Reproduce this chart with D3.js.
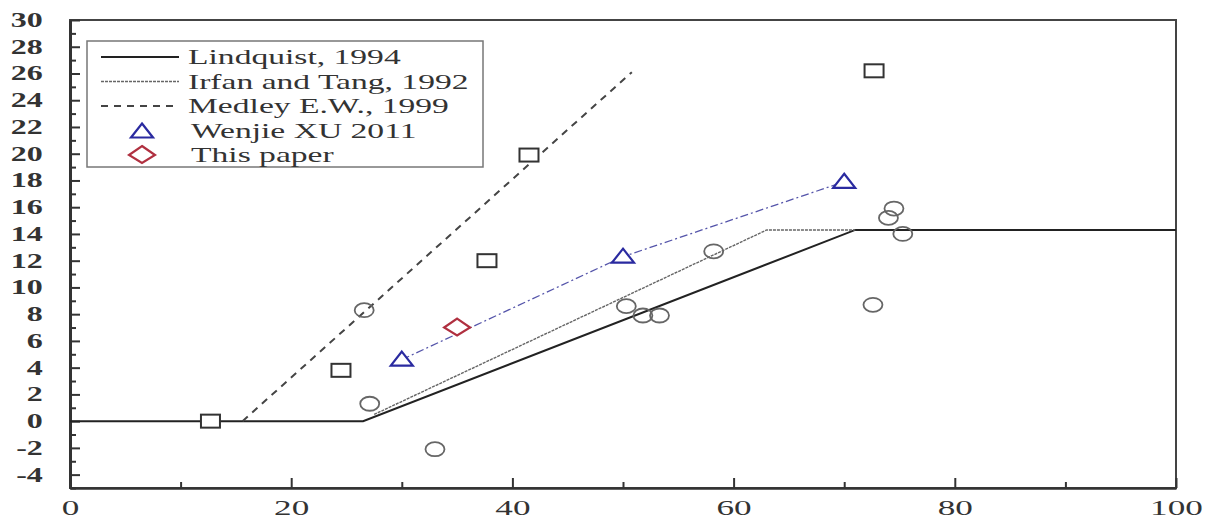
<!DOCTYPE html>
<html>
<head>
<meta charset="utf-8">
<script src="https://cdn.jsdelivr.net/npm/d3@7"></script>
<style>
  body { margin: 0; background: #fff; }
</style>
</head>
<body>
<div id="chart"></div>
<script>
// -------- Data --------
const lindquist = [[0, 0], [26.5, 0], [71, 14.3], [100, 14.3]];
const irfanTang = [[27.5, 0.5], [63, 14.3], [71, 14.3]];
const medley = [[15.6, 0], [50.8, 26.1]];
const wenjieXu = [[30, 4.6], [50, 12.3], [70, 17.9]];
const thisPaper = [[35, 7.0]];
const squares = [[12.7, 0], [24.5, 3.8], [37.7, 12.0], [41.5, 19.9], [72.7, 26.2]];
const circles = [
  [26.6, 8.3], [27.1, 1.3], [33.0, -2.1], [50.3, 8.6], [51.8, 7.9],
  [53.3, 7.9], [58.2, 12.7], [74.0, 15.2], [74.5, 15.9], [75.3, 14.0], [72.6, 8.7]
];
const yTicks = d3.range(-4, 31, 2);
const xTicks = [0, 20, 40, 60, 80, 100];
const legendItems = ['Lindquist, 1994', 'Irfan and Tang, 1992', 'Medley E.W., 1999', 'Wenjie XU 2011', 'This paper'];

// -------- Dimensions --------
const svgWidth = 1208, svgHeight = 520;
const plot = { left: 70, right: 1176, top: 20, bottom: 488 };
const stretch = 1.6; // the source picture is stretched sideways
const serif = "'Liberation Serif', 'Times New Roman', 'DejaVu Serif', serif";

const svg = d3.select('#chart').append('svg')
  .attr('width', svgWidth)
  .attr('height', svgHeight);

// -------- Scales --------
const x = d3.scaleLinear().domain([0, 100]).range([plot.left, plot.right]);
const y = d3.scaleLinear().domain([-5, 30]).range([plot.bottom, plot.top]);

// -------- Frame --------
svg.append('rect')
  .attr('x', plot.left).attr('y', plot.top)
  .attr('width', plot.right - plot.left)
  .attr('height', plot.bottom - plot.top)
  .attr('fill', 'none')
  .attr('stroke', '#444')
  .attr('stroke-width', 2);

// -------- Axes (ticks pointing in) --------
const yAxis = svg.append('g')
  .attr('transform', `translate(${plot.left},0)`)
  .call(d3.axisLeft(y).tickValues(yTicks).tickSize(-10).tickPadding(17)
    .tickSizeOuter(0).tickFormat(d => String(d)));
yAxis.select('.domain').attr('stroke', '#333').attr('stroke-width', 3);
yAxis.selectAll('.tick line').attr('stroke', '#333').attr('stroke-width', 2);
yAxis.selectAll('text')
  .attr('fill', '#333')
  .attr('transform', `scale(${stretch},1)`)
  .style('font-family', serif)
  .style('font-size', '20px')
  .style('font-weight', 'bold');

svg.append('g')
  .attr('transform', `translate(${plot.left},0)`)
  .call(d3.axisLeft(y).tickValues(d3.range(-5, 30, 2)).tickSize(-6).tickFormat(''))
  .call(g => g.select('.domain').remove())
  .selectAll('.tick line').attr('stroke', '#333').attr('stroke-width', 2);

const xAxis = svg.append('g')
  .attr('transform', `translate(0,${plot.bottom})`)
  .call(d3.axisBottom(x).tickValues(xTicks).tickSize(-10).tickPadding(11)
    .tickSizeOuter(0).tickFormat(d => String(d)));
xAxis.select('.domain').attr('stroke', '#333').attr('stroke-width', 2.5);
xAxis.selectAll('.tick line').attr('stroke', '#333').attr('stroke-width', 2);
xAxis.selectAll('text')
  .attr('fill', '#333')
  .attr('transform', `scale(${stretch},1)`)
  .style('font-family', serif)
  .style('font-size', '22px');

svg.append('g')
  .attr('transform', `translate(0,${plot.bottom})`)
  .call(d3.axisBottom(x).tickValues([10, 30, 50, 70, 90]).tickSize(-6).tickFormat(''))
  .call(g => g.select('.domain').remove())
  .selectAll('.tick line').attr('stroke', '#333').attr('stroke-width', 2);

// -------- Lines --------
const line = d3.line().x(d => x(d[0])).y(d => y(d[1]));

svg.append('path').datum(lindquist)
  .attr('d', line).attr('fill', 'none')
  .attr('stroke', '#222').attr('stroke-width', 2);

svg.append('path').datum(irfanTang)
  .attr('d', line).attr('fill', 'none')
  .attr('stroke', '#666').attr('stroke-width', 1.4)
  .attr('stroke-dasharray', '3,1');

svg.append('path').datum(medley)
  .attr('d', line).attr('fill', 'none')
  .attr('stroke', '#444').attr('stroke-width', 2)
  .attr('stroke-dasharray', '7,6');

svg.append('path').datum(wenjieXu)
  .attr('d', line).attr('fill', 'none')
  .attr('stroke', '#5555aa').attr('stroke-width', 1.3)
  .attr('stroke-dasharray', '8,3,2,3');

// -------- Markers --------
svg.selectAll('rect.sq').data(squares).join('rect')
  .attr('class', 'sq')
  .attr('x', d => x(d[0]) - 9.5).attr('y', d => y(d[1]) - 6.5)
  .attr('width', 19).attr('height', 13)
  .attr('fill', '#fff').attr('stroke', '#333').attr('stroke-width', 2);

svg.selectAll('ellipse.ci').data(circles).join('ellipse')
  .attr('class', 'ci')
  .attr('cx', d => x(d[0])).attr('cy', d => y(d[1]))
  .attr('rx', 9.5).attr('ry', 7)
  .attr('fill', 'none').attr('stroke', '#666').attr('stroke-width', 1.8);

const tri = (cx, cy) => `M${cx},${cy - 8}L${cx + 11},${cy + 6}L${cx - 11},${cy + 6}Z`;
svg.selectAll('path.tri').data(wenjieXu).join('path')
  .attr('class', 'tri')
  .attr('d', d => tri(x(d[0]), y(d[1])))
  .attr('fill', '#fff').attr('stroke', '#2a2aa0').attr('stroke-width', 2.2);

const dia = (cx, cy) => `M${cx},${cy - 9}L${cx + 13},${cy}L${cx},${cy + 8}L${cx - 13},${cy}Z`;
svg.selectAll('path.dia').data(thisPaper).join('path')
  .attr('class', 'dia')
  .attr('d', d => dia(x(d[0]), y(d[1])))
  .attr('fill', '#fff').attr('stroke', '#b03040').attr('stroke-width', 2.2);

// -------- Legend --------
const legend = svg.append('g').attr('transform', 'translate(87,41)');
legend.append('rect')
  .attr('width', 396).attr('height', 126)
  .attr('fill', '#fff').attr('stroke', '#777').attr('stroke-width', 1.5);

const rowY = i => 16 + i * 24.5;
const styles = [
  { stroke: '#222', w: 2, dash: null },
  { stroke: '#666', w: 1.4, dash: '3,1' },
  { stroke: '#444', w: 2, dash: '7,6' }
];
styles.forEach((s, i) => {
  legend.append('line')
    .attr('x1', 14).attr('x2', 92)
    .attr('y1', rowY(i)).attr('y2', rowY(i))
    .attr('stroke', s.stroke).attr('stroke-width', s.w)
    .attr('stroke-dasharray', s.dash);
});
legend.append('path').attr('d', tri(55, rowY(3) + 1))
  .attr('fill', '#fff').attr('stroke', '#2a2aa0').attr('stroke-width', 2.2);
legend.append('path').attr('d', dia(55, rowY(4)))
  .attr('fill', '#fff').attr('stroke', '#b03040').attr('stroke-width', 2.2);

legend.selectAll('text.li').data(legendItems).join('text')
  .attr('class', 'li')
  .attr('transform', (d, i) => `translate(${i >= 3 ? 104 : 101},${rowY(i) + 7}) scale(${stretch},1)`)
  .attr('fill', '#333')
  .style('font-family', serif)
  .style('font-size', '21px')
  .text(d => d);
</script>
</body>
</html>
